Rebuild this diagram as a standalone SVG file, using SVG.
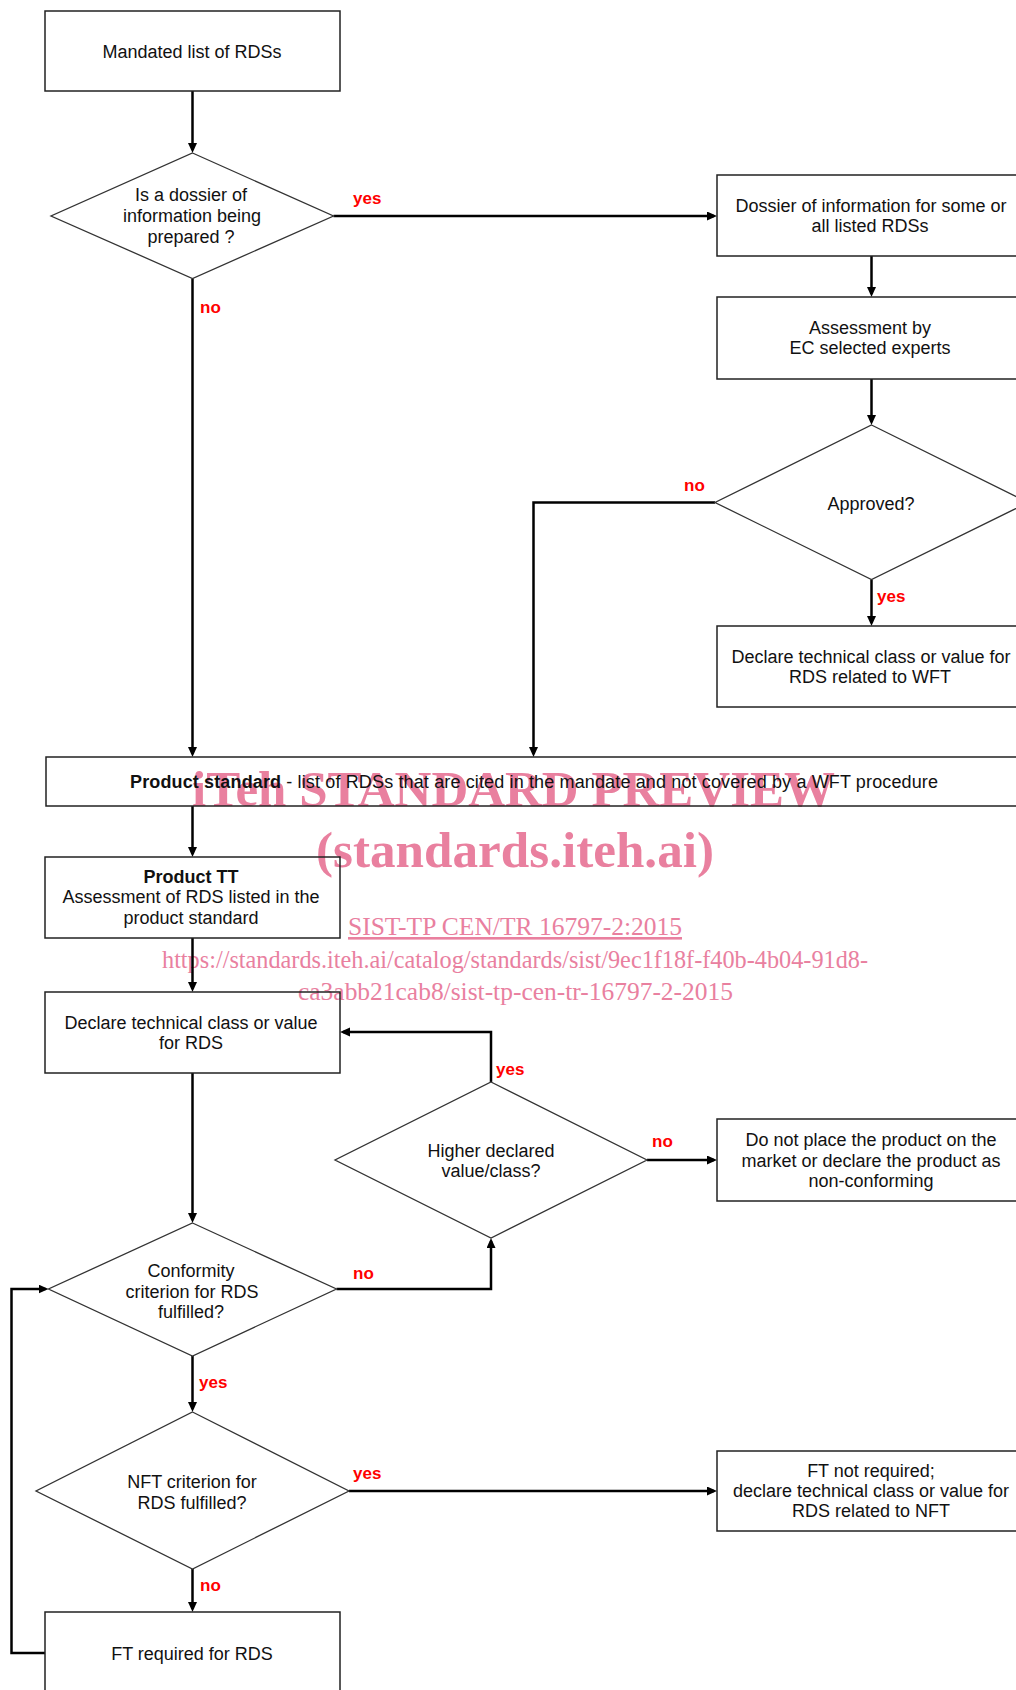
<svg xmlns="http://www.w3.org/2000/svg" width="1016" height="1690" viewBox="0 0 1016 1690">
<style>
.bg{fill:#fff}
.box{fill:none;stroke:#222;stroke-width:1.5}
.dia{fill:none;stroke:#333;stroke-width:1.3}
.t{font-family:"Liberation Sans",Arial,sans-serif;font-size:18px;fill:#111;text-anchor:middle}
.b{font-weight:bold}
.lbl{font-family:"Liberation Sans",Arial,sans-serif;font-size:17px;font-weight:bold;fill:#f00}
.con{fill:none;stroke:#000;stroke-width:2.5}
.wm{font-family:"Liberation Serif","Times New Roman",serif;fill:#e9809f}
</style>
<defs>
<marker id="ah" markerUnits="userSpaceOnUse" markerWidth="11" markerHeight="10" refX="7" refY="4.5" orient="auto">
<path d="M0,0 L10,4.5 L0,9 z" fill="#000"/>
</marker>
</defs>
<rect class="bg" x="0" y="0" width="1016" height="1690"/>

<g id="watermark">
<text class="wm" x="192" y="806" font-size="50" font-weight="bold" textLength="643" lengthAdjust="spacingAndGlyphs">iTeh STANDARD PREVIEW</text>
<text class="wm" x="316" y="867" font-size="51" font-weight="bold" textLength="398" lengthAdjust="spacingAndGlyphs">(standards.iteh.ai)</text>
<text class="wm" x="348" y="935" font-size="26" text-decoration="underline" textLength="334" lengthAdjust="spacingAndGlyphs">SIST-TP CEN/TR 16797-2:2015</text>
<text class="wm" x="162" y="968" font-size="26" textLength="706" lengthAdjust="spacingAndGlyphs">https://standards.iteh.ai/catalog/standards/sist/9ec1f18f-f40b-4b04-91d8-</text>
<text class="wm" x="298" y="1000" font-size="26" textLength="435" lengthAdjust="spacingAndGlyphs">ca3abb21cab8/sist-tp-cen-tr-16797-2-2015</text>
</g>

<g id="connectors">
<path class="con" d="M192.5,91 V150" marker-end="url(#ah)"/>
<path class="con" d="M333.5,216 H714" marker-end="url(#ah)"/>
<path class="con" d="M192.5,278.5 V754" marker-end="url(#ah)"/>
<path class="con" d="M871.5,256 V294" marker-end="url(#ah)"/>
<path class="con" d="M871.5,379 V422" marker-end="url(#ah)"/>
<path class="con" d="M715,502.5 H533.5 V754" marker-end="url(#ah)"/>
<path class="con" d="M871.5,579.5 V623" marker-end="url(#ah)"/>
<path class="con" d="M192.5,806 V854" marker-end="url(#ah)"/>
<path class="con" d="M192.5,938 V989" marker-end="url(#ah)"/>
<path class="con" d="M192.5,1073 V1220" marker-end="url(#ah)"/>
<path class="con" d="M491,1082 V1032 H343" marker-end="url(#ah)"/>
<path class="con" d="M647,1160 H714" marker-end="url(#ah)"/>
<path class="con" d="M336.5,1289 H491 V1241" marker-end="url(#ah)"/>
<path class="con" d="M192.5,1356 V1409" marker-end="url(#ah)"/>
<path class="con" d="M349,1491 H714" marker-end="url(#ah)"/>
<path class="con" d="M192.5,1569 V1609" marker-end="url(#ah)"/>
<path class="con" d="M45,1653 H11.5 V1289 H45.5" marker-end="url(#ah)"/>
</g>

<g id="labels">
<text class="lbl" x="353" y="204">yes</text>
<text class="lbl" x="200" y="313">no</text>
<text class="lbl" x="684" y="491">no</text>
<text class="lbl" x="877" y="602">yes</text>
<text class="lbl" x="496" y="1075">yes</text>
<text class="lbl" x="652" y="1147">no</text>
<text class="lbl" x="353" y="1279">no</text>
<text class="lbl" x="199" y="1388">yes</text>
<text class="lbl" x="353" y="1479">yes</text>
<text class="lbl" x="200" y="1591">no</text>
</g>

<g id="n-mandated">
<rect class="box" x="45" y="11" width="295" height="80"/>
<text class="t" x="192" y="58">Mandated list of RDSs</text>
</g>

<g id="d-dossier">
<polygon class="dia" points="192.5,153 333.5,216 192.5,278.5 51,216"/>
<text class="t" x="191" y="201">Is a dossier of</text>
<text class="t" x="192" y="222">information being</text>
<text class="t" x="191" y="243">prepared ?</text>
</g>

<g id="n-dossier-info">
<rect class="box" x="717" y="175" width="310" height="81"/>
<text class="t" x="871" y="212">Dossier of information for some or</text>
<text class="t" x="870" y="232">all listed RDSs</text>
</g>

<g id="n-assessment">
<rect class="box" x="717" y="297" width="310" height="82"/>
<text class="t" x="870" y="334">Assessment by</text>
<text class="t" x="870" y="354">EC selected experts</text>
</g>

<g id="d-approved">
<polygon class="dia" points="871.5,425 1028,502.5 871.5,579.5 715,502.5"/>
<text class="t" x="871" y="510">Approved?</text>
</g>

<g id="n-declare-wft">
<rect class="box" x="717" y="626" width="310" height="81"/>
<text class="t" x="871" y="663">Declare technical class or value for</text>
<text class="t" x="870" y="683">RDS related to WFT</text>
</g>

<g id="n-product-standard">
<rect class="box" x="46" y="757" width="980" height="49"/>
<text class="t" x="130" y="788" style="text-anchor:start" textLength="808"><tspan class="b">Product standard</tspan> - list of RDSs that are cited in the mandate and not covered by a WFT procedure</text>
</g>

<g id="n-product-tt">
<rect class="box" x="45" y="857" width="295" height="81"/>
<text class="t b" x="191" y="883">Product TT</text>
<text class="t" x="191" y="903">Assessment of RDS listed in the</text>
<text class="t" x="191" y="924">product standard</text>
</g>

<g id="n-declare-rds">
<rect class="box" x="45" y="992" width="295" height="81"/>
<text class="t" x="191" y="1029">Declare technical class or value</text>
<text class="t" x="191" y="1049">for RDS</text>
</g>

<g id="d-higher">
<polygon class="dia" points="491,1082 647,1160 491,1238 335,1160"/>
<text class="t" x="491" y="1157">Higher declared</text>
<text class="t" x="491" y="1177">value/class?</text>
</g>

<g id="n-do-not-place">
<rect class="box" x="717" y="1119" width="310" height="82"/>
<text class="t" x="871" y="1146">Do not place the product on the</text>
<text class="t" x="871" y="1167">market or declare the product as</text>
<text class="t" x="871" y="1187">non-conforming</text>
</g>

<g id="d-conformity">
<polygon class="dia" points="192.5,1223 336.5,1289 192.5,1356 48.5,1289"/>
<text class="t" x="191" y="1277">Conformity</text>
<text class="t" x="192" y="1298">criterion for RDS</text>
<text class="t" x="191" y="1318">fulfilled?</text>
</g>

<g id="d-nft">
<polygon class="dia" points="192.5,1412 349,1491 192.5,1569 36,1491"/>
<text class="t" x="192" y="1488">NFT criterion for</text>
<text class="t" x="192" y="1509">RDS fulfilled?</text>
</g>

<g id="n-ft-not-required">
<rect class="box" x="717" y="1451" width="310" height="80"/>
<text class="t" x="871" y="1477">FT not required;</text>
<text class="t" x="871" y="1497">declare technical class or value for</text>
<text class="t" x="871" y="1517">RDS related to NFT</text>
</g>

<g id="n-ft-required">
<rect class="box" x="45" y="1612" width="295" height="100"/>
<text class="t" x="192" y="1660">FT required for RDS</text>
</g>
</svg>
